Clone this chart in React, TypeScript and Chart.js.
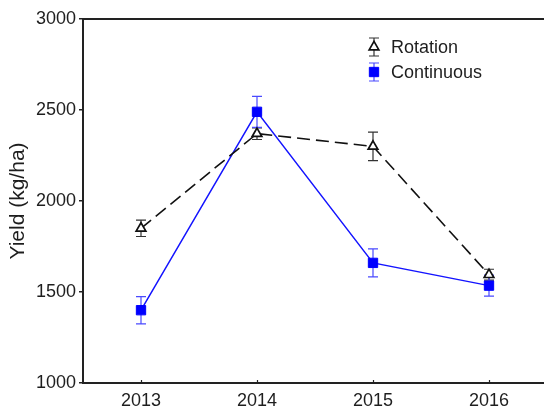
import React, { useEffect, useRef } from 'react';
import { Chart, registerables } from 'chart.js';

Chart.register(...registerables);

const years = ['2013', '2014', '2015', '2016'];
const rotation = [1850, 2370, 2300, 1595];
const rotationErr = [45, 32, 78, 30];
const continuous = [1400, 2490, 1660, 1535];
const continuousErr = [75, 85, 77, 58];
const seriesLabels = ['Rotation', 'Continuous'];
const yMin = 1000;
const yMax = 3000;
const yStep = 500;

const errorSets = [rotationErr, continuousErr];
const errorColors = ['#333333', '#4a4aff'];

const FONT = "'Liberation Sans', Arial, sans-serif";
const TEXT = '#1e1e1e';
const AXIS = '#222222';

function drawMarker(ctx: CanvasRenderingContext2D, style: string, x: number, y: number, r: number, fill: string, stroke: string, lw: number) {
  ctx.save();
  ctx.beginPath();
  if (style === 'triangle') {
    let rad = 0;
    ctx.moveTo(x + Math.sin(rad) * r, y - Math.cos(rad) * r);
    rad += (2 * Math.PI) / 3;
    ctx.lineTo(x + Math.sin(rad) * r, y - Math.cos(rad) * r);
    rad += (2 * Math.PI) / 3;
    ctx.lineTo(x + Math.sin(rad) * r, y - Math.cos(rad) * r);
    ctx.closePath();
  } else {
    const s = Math.SQRT1_2 * r;
    ctx.rect(x - s, y - s, 2 * s, 2 * s);
  }
  ctx.fillStyle = fill;
  ctx.fill();
  ctx.lineWidth = lw;
  ctx.strokeStyle = stroke;
  ctx.stroke();
  ctx.restore();
}

const errorBarPlugin = {
  id: 'errorBars',
  beforeDatasetsDraw(chart: any) {
    const ctx = chart.ctx;
    const ys = chart.scales.y;
    chart.data.datasets.forEach((ds: any, di: number) => {
      const meta = chart.getDatasetMeta(di);
      const errs = errorSets[di];
      ctx.save();
      ctx.strokeStyle = errorColors[di];
      ctx.lineWidth = 1.2;
      meta.data.forEach((pt: any, i: number) => {
        const v = ds.data[i];
        const e = errs[i];
        const x = pt.x;
        const y1 = ys.getPixelForValue(v + e);
        const y2 = ys.getPixelForValue(v - e);
        ctx.beginPath();
        ctx.moveTo(x, y1);
        ctx.lineTo(x, y2);
        ctx.moveTo(x - 5, y1);
        ctx.lineTo(x + 5, y1);
        ctx.moveTo(x - 5, y2);
        ctx.lineTo(x + 5, y2);
        ctx.stroke();
      });
      ctx.restore();
    });
  },
  afterDraw(chart: any) {
    const ctx = chart.ctx;
    const area = chart.chartArea;
    // inner x tick marks
    const xs = chart.scales.x;
    ctx.save();
    ctx.strokeStyle = AXIS;
    ctx.lineWidth = 1.2;
    xs.ticks.forEach((_t: any, i: number) => {
      const px = Math.round(xs.getPixelForTick(i)) + 0.5;
      ctx.beginPath();
      ctx.moveTo(px, area.bottom);
      ctx.lineTo(px, area.bottom - 3);
      ctx.stroke();
    });
    ctx.restore();

    // legend
    const x0 = area.left + 291;
    const y0 = area.top + 28;
    const rowH = 25;
    chart.data.datasets.forEach((ds: any, di: number) => {
      const y = y0 + di * rowH;
      ctx.save();
      ctx.strokeStyle = errorColors[di];
      ctx.lineWidth = 1.2;
      ctx.beginPath();
      ctx.moveTo(x0, y - 9);
      ctx.lineTo(x0, y + 9);
      ctx.moveTo(x0 - 5, y - 9);
      ctx.lineTo(x0 + 5, y - 9);
      ctx.moveTo(x0 - 5, y + 9);
      ctx.lineTo(x0 + 5, y + 9);
      ctx.stroke();
      ctx.restore();
      drawMarker(ctx, ds.pointStyle, x0, y, ds.pointRadius, ds.pointBackgroundColor, ds.pointBorderColor, ds.pointBorderWidth);
      ctx.save();
      ctx.fillStyle = TEXT;
      ctx.font = `18px ${FONT}`;
      ctx.textBaseline = 'middle';
      ctx.textAlign = 'left';
      ctx.fillText(ds.label, x0 + 17, y + 1);
      ctx.restore();
    });
  },
};

export default function App() {
  const ref = useRef<HTMLCanvasElement | null>(null);

  useEffect(() => {
    if (!ref.current) return;
    const chart = new Chart(ref.current, {
      type: 'line',
      data: {
        labels: years,
        datasets: [
          {
            label: seriesLabels[0],
            data: rotation,
            borderColor: '#111111',
            borderWidth: 1.6,
            borderDash: [13, 6],
            pointStyle: 'triangle',
            pointRadius: 5.6,
            pointBackgroundColor: '#ffffff',
            pointBorderColor: '#111111',
            pointBorderWidth: 1.7,
            fill: false,
            tension: 0,
          } as any,
          {
            label: seriesLabels[1],
            data: continuous,
            borderColor: '#1414ff',
            borderWidth: 1.5,
            pointStyle: 'rect',
            pointRadius: 6.6,
            pointBackgroundColor: '#0000ff',
            pointBorderColor: '#0000ff',
            pointBorderWidth: 1,
            fill: false,
            tension: 0,
          } as any,
        ],
      },
      options: {
        animation: false,
        responsive: false,
        maintainAspectRatio: false,
        devicePixelRatio: 1,
        layout: { padding: 0, autoPadding: false },
        plugins: {
          legend: { display: false },
          tooltip: { enabled: false },
        },
        scales: {
          x: {
            type: 'category',
            position: 'bottom',
            offset: true,
            grid: { display: false, drawTicks: false },
            border: { display: true, color: AXIS, width: 2 },
            ticks: { color: TEXT, font: { family: FONT, size: 18 }, padding: 7, maxRotation: 0 },
            afterFit: (s: any) => { s.height = 24; },
          },
          xTop: {
            type: 'category',
            position: 'top',
            display: true,
            offset: true,
            grid: { display: false, drawTicks: false },
            border: { display: true, color: AXIS, width: 2 },
            ticks: { display: false },
            afterFit: (s: any) => { s.height = 19; },
          },
          y: {
            type: 'linear',
            min: yMin,
            max: yMax,
            ticks: {
              stepSize: yStep,
              color: TEXT,
              font: { family: FONT, size: 18 },
              padding: 3,
              callback: (v: any) => String(v),
            },
            grid: { drawOnChartArea: false, drawTicks: true, tickLength: 4, color: AXIS, lineWidth: 1.5 },
            border: { display: true, color: AXIS, width: 2 },
            title: {
              display: true,
              text: 'Yield (kg/ha)',
              color: TEXT,
              font: { family: FONT, size: 21 },
              padding: { top: 6, bottom: 0 },
            },
            afterFit: (s: any) => { s.width = 83; },
          },
        },
      } as any,
      plugins: [errorBarPlugin],
    });
    return () => chart.destroy();
  }, []);

  return (
    <div style={{ position: 'absolute', left: 0, top: 0, width: 544, height: 407, overflow: 'hidden', background: '#fff' }}>
      <canvas ref={ref} width={547} height={407} style={{ display: 'block' }} />
    </div>
  );
}
